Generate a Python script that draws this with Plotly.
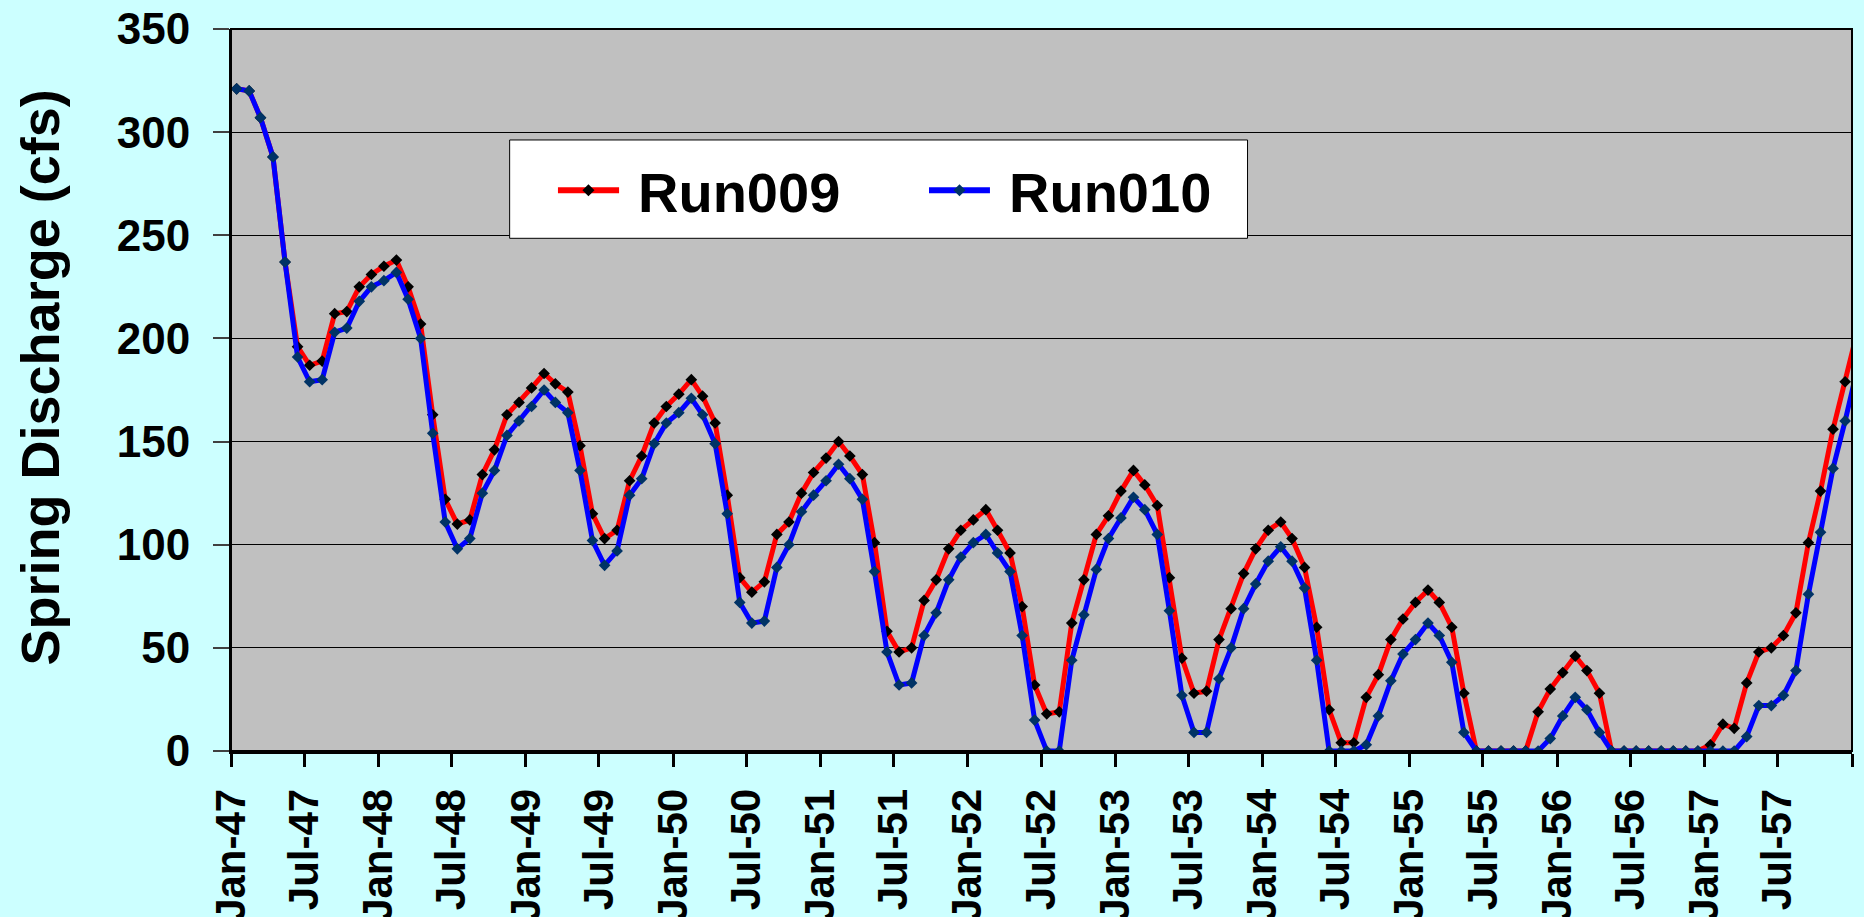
import pandas as pd
import plotly.graph_objects as go

# monthly spring discharge (cfs), Jan-47 .. Jan-58
run009 = [321, 320, 307, 288, 237, 196, 187, 189, 212, 213, 225, 231,
          235, 238, 225, 207, 163, 122, 110, 112, 134, 146, 163, 169,
          176, 183, 178, 174, 148, 115, 103, 107, 131, 143, 159, 167,
          173, 180, 172, 159, 124, 84, 77, 82, 105, 111, 125, 135,
          142, 150, 143, 134, 101, 58, 48, 50, 73, 83, 98, 107,
          112, 117, 107, 96, 70, 32, 18, 19, 62, 83, 105, 114,
          126, 136, 129, 119, 84, 45, 28, 29, 54, 69, 86, 98,
          107, 111, 103, 89, 60, 20, 4, 4, 26, 37, 54, 64,
          72, 78, 72, 60, 28, 0, 0, 0, 0, 0, 19, 30,
          38, 46, 39, 28, 0, 0, 0, 0, 0, 0, 0, 0,
          3, 13, 11, 33, 48, 50, 56, 67, 101, 126, 156, 179,
          204]
run010 = [321, 320, 307, 288, 237, 191, 179, 180, 203, 205, 218, 225,
          228, 232, 219, 200, 154, 111, 98, 103, 125, 136, 153, 160,
          167, 175, 169, 164, 136, 102, 90, 97, 124, 132, 149, 159,
          164, 171, 163, 149, 115, 72, 62, 63, 89, 100, 116, 124,
          131, 139, 132, 122, 87, 48, 32, 33, 56, 67, 83, 94,
          101, 105, 96, 87, 56, 15, 0, 0, 44, 66, 88, 103,
          113, 123, 117, 105, 68, 27, 9, 9, 35, 50, 69, 81,
          92, 99, 92, 79, 44, 0, 0, 0, 3, 17, 34, 47,
          54, 62, 56, 43, 9, 0, 0, 0, 0, 0, 0, 6,
          17, 26, 20, 9, 0, 0, 0, 0, 0, 0, 0, 0,
          0, 0, 0, 7, 22, 22, 27, 39, 76, 106, 137, 160,
          186]
dates = pd.date_range("1947-01-01", periods=len(run009), freq="MS") + pd.Timedelta(days=14)

tick_dates = pd.date_range("1947-01-01", "1958-01-01", freq="6MS")
tick_labels = [d.strftime("%b-%y") for d in tick_dates[:-1]] + [""]

FONT = "Liberation Sans, Arial, sans-serif"
series = [("Run009", run009, "#FF0000", "#000000"),
          ("Run010", run010, "#0000FF", "#003366")]

fig = go.Figure()
for name, vals, line_col, mark_col in series:
    fig.add_trace(go.Scatter(
        x=dates, y=vals, name=name, mode="lines+markers",
        line=dict(color=line_col, width=5),
        marker=dict(symbol="diamond", size=9, color=mark_col),
        showlegend=False,
    ))

# Excel-style legend box drawn in paper coordinates
shapes = [
    dict(type="rect", xref="paper", yref="paper", x0=0.1719, x1=0.6271, y0=0.7101, y1=0.8463,
         fillcolor="white", line=dict(color="black", width=1), layer="above"),
]
annotations = []
legend_pos = [(0.2017, 0.2394, 0.2205, 0.2497), (0.4306, 0.4682, 0.4494, 0.4785)]
ly = 0.7766
for (name, _, line_col, mark_col), (lx0, lx1, mx, tx) in zip(series, legend_pos):
    shapes.append(dict(type="line", xref="paper", yref="paper", x0=lx0, x1=lx1, y0=ly, y1=ly,
                       line=dict(color=line_col, width=6), layer="above"))
    shapes.append(dict(type="path", xref="paper", yref="paper",
                       xsizemode="pixel", ysizemode="pixel", xanchor=mx, yanchor=ly,
                       path="M0,6 L6,0 L0,-6 L-6,0 Z", fillcolor=mark_col,
                       line=dict(width=0), layer="above"))
    annotations.append(dict(text=name, xref="paper", yref="paper", x=tx, y=ly - 0.003,
                            xanchor="left", yanchor="middle", showarrow=False,
                            font=dict(size=56, family=FONT, weight="bold")))

annotations.append(dict(
    text="Spring Discharge (cfs)", textangle=-90,
    xref="paper", yref="paper", x=-0.118, y=0.517,
    xanchor="center", yanchor="middle", showarrow=False,
    font=dict(size=54, family=FONT, weight="bold"),
))
shapes.append(dict(type="rect", xref="paper", yref="paper", x0=0, x1=1, y0=0, y1=1,
                   line=dict(color="black", width=2), layer="above"))

fig.update_layout(
    width=1864, height=917,
    margin=dict(l=231, r=12, t=29, b=166),
    paper_bgcolor="#CCFFFF",
    plot_bgcolor="#C0C0C0",
    font=dict(family=FONT, color="black", weight="bold"),
    showlegend=False,
    annotations=annotations,
    shapes=shapes,
)
fig.update_xaxes(
    type="date", range=["1947-01-01", "1958-01-01"],
    tickmode="array", tickvals=tick_dates, ticktext=tick_labels,
    tickangle=-90, tickfont=dict(size=42, family=FONT, weight="bold"),
    ticks="outside", ticklen=13, tickwidth=3, tickcolor="black",
    ticklabelstandoff=5,
    showline=True, linecolor="black", linewidth=3,
    showgrid=False, zeroline=False, automargin=False,
)
fig.update_yaxes(
    range=[0, 350], dtick=50,
    tickfont=dict(size=44, family=FONT, weight="bold"),
    ticks="outside", ticklen=16, tickwidth=2, tickcolor="#404040",
    ticklabelstandoff=14,
    showline=True, linecolor="black", linewidth=2,
    showgrid=True, gridcolor="black", gridwidth=1, zeroline=False, automargin=False,
)

fig.write_html("out.html", config={"displayModeBar": False},
               post_script="document.body.style.margin='0';")
